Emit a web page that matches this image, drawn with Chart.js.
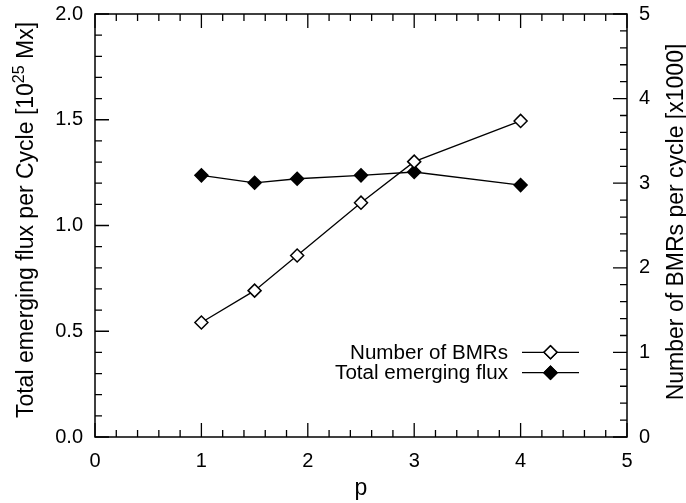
<!DOCTYPE html>
<html>
<head>
<meta charset="utf-8">
<script src="https://cdn.jsdelivr.net/npm/chart.js@4/dist/chart.umd.min.js"></script>
<style>
  html, body { margin: 0; padding: 0; background: #ffffff; }
  #wrap { width: 686px; height: 503px; }
</style>
</head>
<body>
<div id="wrap"><canvas id="c" width="686" height="503"></canvas></div>
<script>
// ---- data ----
const pValues = [1, 1.5, 1.9, 2.5, 3, 4];
const bmrCounts = [1.354, 1.73, 2.145, 2.77, 3.255, 3.736];   // x1000, right axis
const totalFlux = [1.237, 1.202, 1.221, 1.237, 1.253, 1.191];  // 10^25 Mx, left axis
const xTickLabels = ['0', '1', '2', '3', '4', '5'];
const yTickLabels = ['0.0', '0.5', '1.0', '1.5', '2.0'];
const y2TickLabels = ['0', '1', '2', '3', '4', '5'];
const seriesNames = ['Number of BMRs', 'Total emerging flux'];
const xTitle = 'p';
const yTitleMain = 'Total emerging flux per Cycle [10';
const yTitleSup = '25';
const yTitleEnd = ' Mx]';
const y2Title = 'Number of BMRs per cycle [x1000]';

const FONT = '"Liberation Sans", Arial, Helvetica, sans-serif';

function pts(xs, ys) { return xs.map((x, i) => ({ x: x, y: ys[i] })); }

const framePlugin = {
  id: 'frame',
  afterDraw(chart) {
    const ctx = chart.ctx;
    const a = chart.chartArea;
    const xs = chart.scales.x, ys = chart.scales.y, y2 = chart.scales.y2;
    ctx.save();
    ctx.strokeStyle = '#000';
    ctx.lineWidth = 1.5;
    ctx.strokeRect(a.left, a.top, a.right - a.left, a.bottom - a.top);
    ctx.lineWidth = 1.3;
    ctx.beginPath();
    // x ticks (bottom and top)
    for (let i = 0; i <= 25; i++) {
      const v = i * 0.2;
      const px = xs.getPixelForValue(v);
      const len = (i % 5 === 0) ? 14 : 7;
      ctx.moveTo(px, a.bottom); ctx.lineTo(px, a.bottom - len);
      ctx.moveTo(px, a.top); ctx.lineTo(px, a.top + len);
    }
    // left y ticks
    for (let i = 0; i <= 20; i++) {
      const v = i * 0.1;
      const py = ys.getPixelForValue(v);
      const len = (i % 5 === 0) ? 14 : 7;
      ctx.moveTo(a.left, py); ctx.lineTo(a.left + len, py);
    }
    // right y ticks
    for (let i = 0; i <= 25; i++) {
      const v = i * 0.2;
      const py = y2.getPixelForValue(v);
      const len = (i % 5 === 0) ? 14 : 7;
      ctx.moveTo(a.right, py); ctx.lineTo(a.right - len, py);
    }
    ctx.stroke();

    // axis titles
    ctx.fillStyle = '#000';
    ctx.font = '23px ' + FONT;
    ctx.textAlign = 'center';
    ctx.textBaseline = 'alphabetic';
    ctx.fillText(xTitle, (a.left + a.right) / 2, 495);

    // left title (rotated, bottom-to-top) with superscript
    const big = '23px ' + FONT, small = '16px ' + FONT;
    ctx.font = big;
    const w1 = ctx.measureText(yTitleMain).width;
    const w3 = ctx.measureText(yTitleEnd).width;
    ctx.font = small;
    const w2 = ctx.measureText(yTitleSup).width;
    const total = w1 + w2 + w3;
    ctx.save();
    ctx.translate(33, 220);
    ctx.rotate(-Math.PI / 2);
    ctx.textAlign = 'left';
    let sx = -total / 2;
    ctx.font = big; ctx.fillText(yTitleMain, sx, 0); sx += w1;
    ctx.font = small; ctx.fillText(yTitleSup, sx, -9); sx += w2;
    ctx.font = big; ctx.fillText(yTitleEnd, sx, 0);
    ctx.restore();

    // right title (rotated, bottom-to-top)
    ctx.save();
    ctx.translate(683, 222);
    ctx.rotate(-Math.PI / 2);
    ctx.font = big;
    ctx.textAlign = 'center';
    ctx.fillText(y2Title, 0, 0);
    ctx.restore();

    // legend
    const legendRows = [
      { label: seriesNames[0], ds: chart.data.datasets[0], y: 352.3 },
      { label: seriesNames[1], ds: chart.data.datasets[1], y: 372.7 }
    ];
    ctx.font = '20px ' + FONT;
    ctx.textAlign = 'right';
    ctx.textBaseline = 'middle';
    legendRows.forEach(r => {
      ctx.fillStyle = '#000';
      ctx.save();
      ctx.translate(508, r.y + 1);
      ctx.scale(1.03, 1);
      ctx.fillText(r.label, 0, 0);
      ctx.restore();
      ctx.strokeStyle = '#000';
      ctx.lineWidth = 1.3;
      ctx.beginPath(); ctx.moveTo(522, r.y); ctx.lineTo(579, r.y); ctx.stroke();
      ctx.fillStyle = r.ds.pointBackgroundColor;
      ctx.lineWidth = 1.5;
      Chart.helpers.drawPoint(ctx, { pointStyle: 'rectRot', radius: 6.5, borderWidth: 1.5 }, 550.5, r.y);
      ctx.fill();
      ctx.stroke();
    });
    ctx.restore();
  }
};

function noPadV(s) { s.paddingTop = 0; s.paddingBottom = 0; }

new Chart(document.getElementById('c'), {
  type: 'scatter',
  data: {
    datasets: [
      {
        label: seriesNames[0],
        data: pts(pValues, bmrCounts),
        yAxisID: 'y2',
        showLine: true,
        borderColor: '#000',
        borderWidth: 1.3,
        pointStyle: 'rectRot',
        pointRadius: 6.5,
        pointBorderWidth: 1.5,
        pointBackgroundColor: '#fff',
        pointBorderColor: '#000',
        tension: 0
      },
      {
        label: seriesNames[1],
        data: pts(pValues, totalFlux),
        yAxisID: 'y',
        showLine: true,
        borderColor: '#000',
        borderWidth: 1.3,
        pointStyle: 'rectRot',
        pointRadius: 6.5,
        pointBorderWidth: 1.5,
        pointBackgroundColor: '#000',
        pointBorderColor: '#000',
        tension: 0
      }
    ]
  },
  options: {
    responsive: false,
    animation: false,
    devicePixelRatio: 1,
    layout: { padding: { top: 14, left: 0, right: 0, bottom: 0 } },
    plugins: { legend: { display: false }, tooltip: { enabled: false } },
    scales: {
      x: {
        type: 'linear', min: 0, max: 5,
        grid: { display: false, drawTicks: false },
        border: { display: false },
        ticks: {
          stepSize: 1, padding: 12, color: '#000',
          font: { family: FONT, size: 20 },
          callback: (v) => xTickLabels[Math.round(v)]
        },
        afterFit(s) { s.height = 66; s.paddingLeft = 0; s.paddingRight = 0; }
      },
      y: {
        type: 'linear', position: 'left', min: 0, max: 2,
        grid: { display: false, drawTicks: false },
        border: { display: false },
        ticks: {
          stepSize: 0.5, padding: 12, color: '#000',
          font: { family: FONT, size: 20 },
          callback: (v) => yTickLabels[Math.round(v * 2)]
        },
        afterFit(s) { s.width = 95; noPadV(s); }
      },
      y2: {
        type: 'linear', position: 'right', min: 0, max: 5,
        grid: { display: false, drawTicks: false },
        border: { display: false },
        ticks: {
          stepSize: 1, padding: 12, color: '#000',
          font: { family: FONT, size: 20 },
          callback: (v) => y2TickLabels[Math.round(v)]
        },
        afterFit(s) { s.width = 59; noPadV(s); }
      }
    }
  },
  plugins: [framePlugin]
});
</script>
</body>
</html>
